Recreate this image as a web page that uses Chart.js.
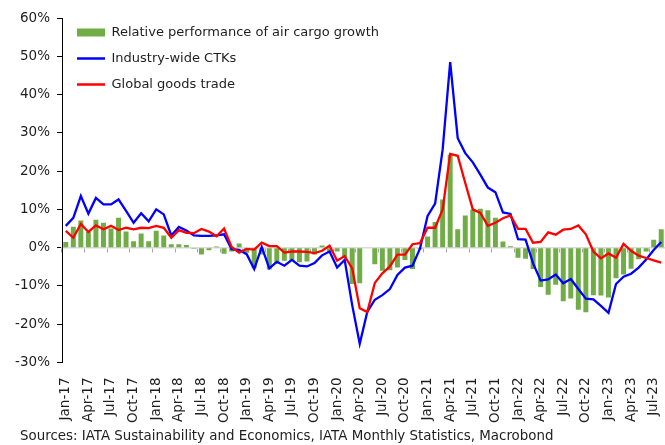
<!DOCTYPE html>
<html>
<head>
<meta charset="utf-8">
<script src="https://cdn.jsdelivr.net/npm/chart.js@4.4.1/dist/chart.umd.min.js"></script>
<style>
  html, body { margin: 0; padding: 0; background: #fff; }
  #wrap { width: 665px; height: 445px; }
</style>
</head>
<body>
<div id="wrap"><canvas id="cargo" width="665" height="445"></canvas></div>
<script>
const monthNames = ['Jan', 'Feb', 'Mar', 'Apr', 'May', 'Jun', 'Jul', 'Aug', 'Sep', 'Oct', 'Nov', 'Dec'];
const years = ['17', '18', '19', '20', '21', '22', '23'];
const lastMonth = 'Aug-23';

// relative performance of air cargo growth (% pts), Jan-17 .. Aug-23
const relative = [
    1.5, 5.5, 7.1, 4.1, 7.3, 6.5, 5.0, 7.8, 4.2, 1.7, 3.7, 1.7,
    4.4, 3.2, 0.9, 0.9, 0.7, -0.3, -1.8, -0.7, 0.3, -1.6, -1.0, 1.1,
    -1.3, -5.4, -1.8, -5.7, -4.2, -3.4, -3.5, -3.8, -3.6, -1.8, 0.6, -1.2,
    -1.0, -2.6, -9.5, -9.3, 0, -4.3, -6.0, -5.9, -5.2, -3.2, -5.6, -0.4,
    2.9, 6.7, 12.6, 24.3, 4.8, 8.4, 10.0, 10.2, 9.8, 7.8, 1.6, 0.4,
    -2.6, -2.9, -5.6, -10.3, -12.3, -9.7, -14.0, -13.3, -16.2, -16.9, -12.4, -12.5,
    -13.0, -8.0, -7.0, -5.5, -3.0, -1.0, 2.1, 4.8
];

// industry-wide CTKs, % yoy
const ctks = [
    5.7, 7.8, 13.5, 8.9, 13.0, 11.3, 11.3, 12.6, 9.6, 6.5, 9.0, 6.9,
    10.0, 8.7, 3.2, 5.4, 4.5, 3.2, 3.1, 3.1, 3.2, 3.5, -0.4, -0.6,
    -1.7, -5.6, 0.2, -5.4, -3.7, -4.7, -3.2, -4.7, -4.9, -4.0, -2.0, -1.0,
    -5.2, -3.2, -15.0, -25.1, -16.8, -13.6, -12.4, -10.8, -7.1, -5.2, -4.7, -0.2,
    8.3, 11.5, 25.6, 48.5, 28.6, 24.7, 22.3, 19.1, 15.7, 14.5, 9.2, 8.8,
    2.2, 2.1, -4.1, -8.6, -8.3, -7.0, -9.3, -8.2, -10.8, -13.3, -13.5, -15.2,
    -17.0, -9.5, -7.6, -6.8, -5.2, -3.1, -0.6, 1.5
];

// global goods trade, % yoy
const goodsTrade = [
    4.4, 2.6, 6.2, 4.1, 5.8, 4.8, 5.7, 4.6, 5.2, 4.8, 5.2, 5.1,
    5.7, 5.2, 2.6, 4.6, 3.9, 3.8, 4.9, 4.2, 3.0, 5.0, 0.2, -1.3,
    -0.3, -0.5, 1.3, 0.4, 0.4, -1.3, -1.0, -1.0, -1.1, -1.4, -0.8, 0.5,
    -3.4, -2.2, -5.4, -15.8, -16.8, -9.2, -6.7, -4.9, -1.8, -1.8, 0.9, 1.2,
    5.2, 5.2, 10.0, 24.5, 24.0, 16.9, 10.0, 9.1, 5.7, 6.5, 7.7, 8.4,
    4.9, 4.9, 1.3, 1.5, 4.0, 3.4, 4.7, 4.9, 5.8, 3.5, -1.0, -2.8,
    -1.5, -2.6, 1.0, -0.8, -2.1, -2.7, -3.3, -3.9
];

const seriesNames = ['Relative performance of air cargo growth', 'Industry-wide CTKs', 'Global goods trade'];
const sourceText = 'Sources: IATA Sustainability and Economics, IATA Monthly Statistics, Macrobond';

const labels = [];
years.forEach(y => monthNames.forEach(m => labels.push(m + '-' + y)));
labels.length = labels.indexOf(lastMonth) + 1;

const font = 'DejaVu Sans';
const textColor = '#1e1e1e';

// legend top-left inside the plot, and let the y labels spill left of the padding
const legendSpot = {
    id: 'legendSpot',
    afterLayout(chart) {
        chart.legend.left = chart.chartArea.left + 2;
        chart.legend.top = 13;
        chart.scales.y.left = 0;
    }
};

new Chart(document.getElementById('cargo'), {
    type: 'bar',
    data: {
        labels: labels,
        datasets: [{
            label: seriesNames[0],
            data: relative,
            backgroundColor: '#70AD47',
            borderWidth: 0,
            barPercentage: 0.66,
            categoryPercentage: 1.0,
            pointStyle: 'rect',
            order: 3
        }, {
            type: 'line',
            label: seriesNames[1],
            data: ctks,
            borderColor: '#0000FF',
            backgroundColor: '#0000FF',
            borderWidth: 2.3,
            pointRadius: 0,
            tension: 0,
            pointStyle: 'line',
            order: 2
        }, {
            type: 'line',
            label: seriesNames[2],
            data: goodsTrade,
            borderColor: '#FF0000',
            backgroundColor: '#FF0000',
            borderWidth: 2.3,
            pointRadius: 0,
            tension: 0,
            pointStyle: 'line',
            order: 1
        }]
    },
    options: {
        responsive: false,
        animation: false,
        devicePixelRatio: 1,
        layout: { padding: { left: 20, top: 18, right: 0, bottom: 0 } },
        scales: {
            x: {
                offset: true,
                grid: { display: false },
                border: { display: false },
                ticks: {
                    autoSkip: false,
                    minRotation: 90,
                    maxRotation: 90,
                    padding: 7,
                    color: textColor,
                    font: { family: font, size: 13.5 },
                    callback: (v, i) => i % 3 === 0 ? labels[i] : ''
                },
                afterFit: (scale) => {
                    scale.height = 62.4;
                    scale.paddingLeft = 0;
                    scale.paddingRight = 0;
                }
            },
            zeroLine: {
                type: 'category',
                axis: 'x',
                position: { y: 0 },
                offset: true,
                grid: {
                    offset: true,
                    drawOnChartArea: false,
                    drawTicks: true,
                    tickLength: 4,
                    color: (ctx) => ctx.index % 3 === 0 ? '#a6a6a6' : 'rgba(0,0,0,0)'
                },
                border: { display: true, color: '#d9d9d9', width: 1.5 },
                ticks: { display: false }
            },
            y: {
                min: -30,
                max: 60,
                grid: { drawOnChartArea: false, drawTicks: true, tickLength: 5, color: '#000' },
                border: { display: true, color: '#000', width: 1 },
                ticks: {
                    stepSize: 10,
                    padding: 7,
                    color: textColor,
                    font: { family: font, size: 13.5 },
                    callback: (v) => v + '%'
                },
                afterFit: (scale) => { scale.width = 42; }
            }
        },
        plugins: {
            legend: {
                position: 'chartArea',
                align: 'start',
                labels: {
                    usePointStyle: true,
                    pointStyleWidth: 28,
                    boxHeight: 8,
                    padding: 13,
                    color: textColor,
                    font: { family: font, size: 13 },
                    sort: (a, b) => a.datasetIndex - b.datasetIndex
                }
            },
            title: {
                display: true,
                text: sourceText,
                position: 'bottom',
                align: 'start',
                color: textColor,
                font: { family: font, size: 13.4, weight: 'normal' },
                padding: { top: 4, bottom: 0 }
            },
            tooltip: { enabled: false }
        }
    },
    plugins: [legendSpot]
});
</script>
</body>
</html>
